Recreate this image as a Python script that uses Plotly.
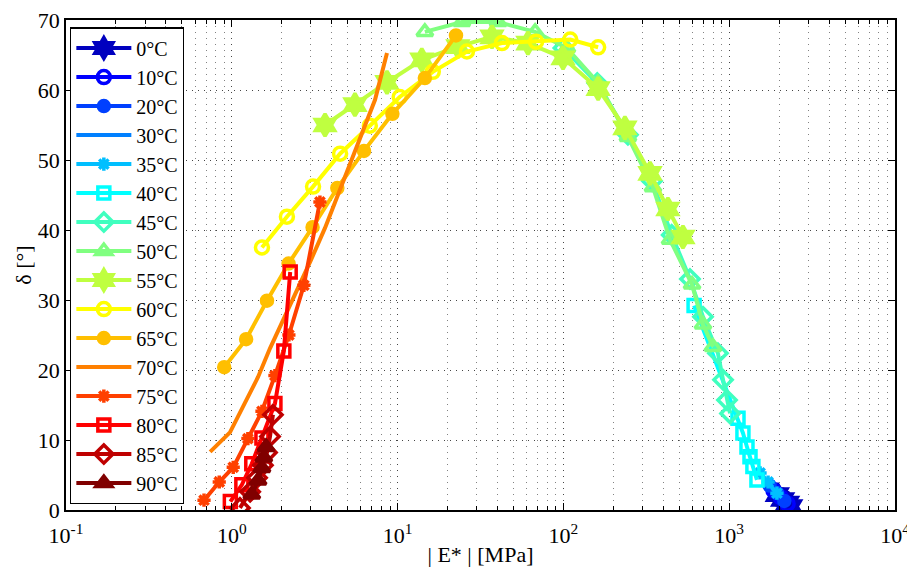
import plotly.graph_objects as go

# ---------------- data ----------------
temps = ["0°C", "10°C", "20°C", "30°C", "35°C", "40°C", "45°C", "50°C",
         "55°C", "60°C", "65°C", "70°C", "75°C", "80°C", "85°C", "90°C"]

E_0 = [1950, 2100, 2250, 2350]
D_0 = [2.2, 1.5, 1.0, 0.5]
E_10 = [1850, 2050, 2250]
D_10 = [2.8, 1.8, 0.9]
E_20 = [1750, 1950, 2150]
D_20 = [3.5, 2.4, 1.3]
E_30 = [1600, 1800, 2000]
D_30 = [4.5, 3.2, 2.0]
E_35 = [1535, 1715, 1940]
D_35 = [5.3, 4.0, 2.4]
E_40 = [614, 1130, 1210, 1280, 1335, 1390, 1470]
D_40 = [29.2, 13.1, 11.0, 9.0, 7.6, 6.2, 4.3]
E_45 = [100, 160, 245, 342, 450, 580, 695, 855, 918, 970, 1012]
D_45 = [66.0, 61.0, 53.6, 47.0, 39.3, 33.0, 27.6, 22.4, 18.6, 15.7, 13.8]
E_50 = [14.6, 24.4, 40.4, 67.5, 105, 162, 245, 347, 440, 597, 695, 798]
D_50 = [68.3, 69.7, 69.7, 68.3, 66.0, 61.0, 53.3, 46.1, 38.6, 32.2, 26.5, 23.3]
E_55 = [3.65, 5.53, 8.63, 14.0, 23.1, 37.1, 61.1, 99.5, 162, 235, 333, 427, 526]
D_55 = [55.0, 57.9, 61.1, 64.3, 66.2, 67.6, 66.7, 64.6, 60.2, 54.6, 48.1, 43.0, 39.0]
E_60 = [1.52, 2.15, 3.09, 4.5, 6.8, 10.3, 16.3, 26.2, 42.6, 68.4, 110, 162]
D_60 = [37.5, 41.9, 46.2, 50.9, 54.9, 59.0, 62.6, 65.5, 66.7, 66.9, 67.2, 66.1]
E_65 = [0.90, 1.22, 1.63, 2.2, 3.07, 4.33, 6.27, 9.3, 14.6, 22.5]
D_65 = [20.4, 24.4, 29.9, 35.2, 40.4, 46.0, 51.3, 56.6, 61.7, 67.8]
E_70 = [0.74, 0.975, 1.2, 1.44, 1.7, 2.04, 2.47, 3.0, 3.65, 4.49, 5.38, 6.18, 7.31, 8.63]
D_70 = [8.3, 11.1, 15.3, 19.0, 23.1, 27.1, 31.4, 35.7, 40.3, 45.7, 50.5, 54.3, 58.6, 65.3]
E_75 = [0.68, 0.84, 1.02, 1.25, 1.52, 1.82, 2.21, 2.72, 3.40]
D_75 = [1.4, 4.0, 6.1, 10.2, 14.1, 19.2, 25.0, 32.1, 44.0]
E_80 = [0.98, 1.15, 1.32, 1.52, 1.82, 2.06, 2.25]
D_80 = [1.2, 3.6, 6.6, 10.3, 15.2, 22.7, 34.0]
E_85 = [1.12, 1.29, 1.42, 1.54, 1.63, 1.70, 1.77]
D_85 = [0.3, 2.6, 4.6, 6.4, 8.2, 10.5, 13.6]
E_90 = [1.32, 1.44, 1.52, 1.56, 1.61]
D_90 = [2.2, 4.2, 6.0, 7.5, 9.0]

E_all = [E_0, E_10, E_20, E_30, E_35, E_40, E_45, E_50,
         E_55, E_60, E_65, E_70, E_75, E_80, E_85, E_90]
D_all = [D_0, D_10, D_20, D_30, D_35, D_40, D_45, D_50,
         D_55, D_60, D_65, D_70, D_75, D_80, D_85, D_90]

x_tickvals = [0.1, 1, 10, 100, 1000, 10000]
x_ticktext = ["10<sup>-1</sup>", "10<sup>0</sup>", "10<sup>1</sup>",
              "10<sup>2</sup>", "10<sup>3</sup>", "10<sup>4</sup>"]
y_tickvals = [0, 10, 20, 30, 40, 50, 60, 70]

# ---------------- styles ----------------
colors = ["rgb(0,0,191)", "rgb(0,0,255)", "rgb(0,64,255)", "rgb(0,128,255)",
          "rgb(0,191,255)", "rgb(0,255,255)", "rgb(64,255,191)", "rgb(128,255,128)",
          "rgb(191,255,64)", "rgb(255,255,0)", "rgb(255,191,0)", "rgb(255,128,0)",
          "rgb(255,64,0)", "rgb(255,0,0)", "rgb(191,0,0)", "rgb(128,0,0)"]
symbols = ["hexagram", "circle-open", "circle", None, "asterisk-open", "square-open",
           "diamond-open", "triangle-up-open", "hexagram", "circle-open", "circle", None,
           "asterisk-open", "square-open", "diamond-open", "triangle-up"]
sizes = [17, 13, 11, 0, 11, 12, 14, 14, 17, 13, 11, 0, 11, 12, 14, 14]

FONT = "Liberation Serif"

fig = go.Figure()
for name, E, D, c, s, sz in zip(temps, E_all, D_all, colors, symbols, sizes):
    if s is None:
        fig.add_trace(go.Scatter(x=E, y=D, name=name, mode="lines",
                                 line=dict(color=c, width=4)))
    else:
        fig.add_trace(go.Scatter(x=E, y=D, name=name, mode="lines+markers",
                                 line=dict(color=c, width=4),
                                 marker=dict(symbol=s, size=sz, color=c,
                                             line=dict(color=c, width=3.5))))

fig.update_layout(
    width=907, height=567,
    margin=dict(l=66, r=12, t=20, b=57, autoexpand=False),
    paper_bgcolor="white", plot_bgcolor="white",
    font=dict(family=FONT, size=20, color="black"),
    showlegend=True,
    legend=dict(x=0.005, y=0.985, xanchor="left", yanchor="top",
                bgcolor="white", bordercolor="black", borderwidth=1.2,
                font=dict(family=FONT, size=20), itemwidth=55,
                tracegroupgap=0),
)
fig.update_xaxes(
    type="log", range=[-1, 4], automargin=False,
    tickvals=x_tickvals, ticktext=x_ticktext, ticklabeloverflow="allow",
    ticklabelstandoff=5,
    ticks="inside", ticklen=7, tickcolor="black",
    showline=True, linecolor="black", linewidth=1.5, mirror="allticks",
    showgrid=True, gridcolor="rgb(70,70,70)", griddash="1px,5px", gridwidth=1,
    minor=dict(dtick="D1", ticks="inside", ticklen=4, tickcolor="black",
               showgrid=True, gridcolor="rgb(130,130,130)", griddash="1px,5px", gridwidth=1),
    title=dict(text="| E* | [MPa]", font=dict(family=FONT, size=22), standoff=0),
    tickfont=dict(family=FONT, size=22), zeroline=False,
)
fig.update_yaxes(
    range=[0, 70], tickvals=y_tickvals, automargin=False,
    ticks="inside", ticklen=7, tickcolor="black",
    showline=True, linecolor="black", linewidth=1.5, mirror="allticks",
    showgrid=True, gridcolor="rgb(70,70,70)", griddash="1px,5px", gridwidth=1,
    title=dict(text="δ [°]", font=dict(family=FONT, size=22), standoff=0),
    tickfont=dict(family=FONT, size=22), zeroline=False,
)

fig.write_html("out.html", config={"displayModeBar": False},
               post_script="document.body.style.margin='0';document.body.style.overflow='hidden';")
